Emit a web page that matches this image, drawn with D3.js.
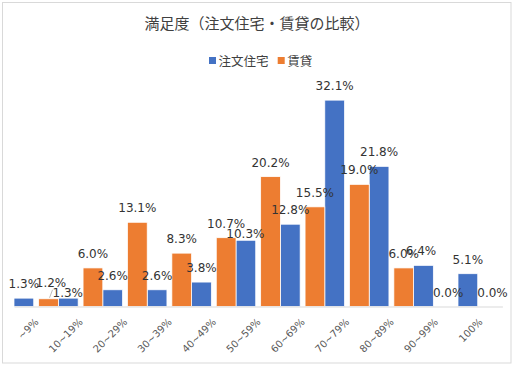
<!DOCTYPE html>
<html><head><meta charset="utf-8">
<script src="https://cdn.jsdelivr.net/npm/d3@7"></script>
<style>
html,body{margin:0;padding:0;background:#fff;}
svg{display:block;}
</style></head>
<body>
<svg id="chart" width="514" height="366"></svg>
<script>
// ---- data ----
const title = "満足度（注文住宅・賃貸の比較）";
const categories = ["~9%","10~19%","20~29%","30~39%","40~49%","50~59%","60~69%","70~79%","80~89%","90~99%","100%"];
const seriesNames = ["注文住宅","賃貸"];
const chumonValues = [1.3,1.3,2.6,2.6,3.8,10.3,12.8,32.1,21.8,6.4,5.1];
const chintaiValues = [1.2,6.0,13.1,8.3,10.7,20.2,15.5,19.0,6.0,0.0,0.0];

// ---- style / layout ----
const colors = ["#4472C4","#ED7D31"];
const W = 514, H = 366;
const plot = {left:14, right:502.4, top:81.5, bottom:306.5};
// manual nudges of data labels (series index, category index) -> [dx, dy]
const labelNudge = {"1-0":[2.5,-2], "0-1":[-0.5,9], "0-5":[-0.5,7.5], "0-9":[-2.5,0]};

const svg = d3.select("#chart");
svg.append("rect").attr("x",2.5).attr("y",2.5).attr("width",508.5).attr("height",360.5)
  .attr("fill","#fff").attr("stroke","#d9d9d9").attr("stroke-width",1);

svg.append("text").attr("x",257).attr("y",29).attr("text-anchor","middle")
  .attr("font-family","'Noto Sans CJK JP'").attr("font-size",15).attr("fill","#404040")
  .text(title);

// legend
const legend = svg.append("g");
const legItems = [{x:209, name:seriesNames[0], c:colors[0]},{x:277.7, name:seriesNames[1], c:colors[1]}];
legItems.forEach(d=>{
  legend.append("rect").attr("x",d.x).attr("y",57).attr("width",7).attr("height",7).attr("fill",d.c);
  legend.append("text").attr("x",d.x+9.5).attr("y",66).attr("font-family","'Noto Sans CJK JP'")
    .attr("font-size",12.5).attr("fill","#404040").text(d.name);
});

const x = d3.scaleBand().domain(categories).range([plot.left, plot.right]).padding(0);
const y = d3.scaleLinear().domain([0,35]).range([plot.bottom, plot.top]);
const bw = x.bandwidth()/2.25;

const series = [chumonValues, chintaiValues];
series.forEach((vals, si)=>{
  const g = svg.append("g");
  g.selectAll("rect").data(vals).join("rect")
    .attr("x",(d,i)=>x(categories[i]) + si*1.25*bw)
    .attr("y",d=>y(d))
    .attr("width",bw)
    .attr("height",d=>y(0)-y(d))
    .attr("fill",colors[si])
    .attr("stroke","#fff").attr("stroke-width",0.75);
});

// axis line
const xAxis = d3.axisBottom(x).tickSize(0).tickFormat("");
const ax = svg.append("g").attr("transform",`translate(0,${plot.bottom})`).call(xAxis);
ax.select(".domain").attr("stroke","#d9d9d9").attr("stroke-width",1);

// category labels
svg.append("g").selectAll("text").data(categories).join("text")
  .attr("transform",d=>`translate(${x(d)+x.bandwidth()/2+3},${plot.bottom+16}) rotate(-45)`)
  .attr("text-anchor","end")
  .attr("font-family","'DejaVu Sans'").attr("font-size",10).attr("fill","#595959")
  .text(d=>d);

// data labels
series.forEach((vals, si)=>{
  vals.forEach((v,i)=>{
    const cx = x(categories[i]) + si*1.25*bw + bw/2;
    const top = y(v);
    const n = labelNudge[si+"-"+i] || [0,0];
    const lx = cx + n[0], ly = top - 10 + n[1];
    if (si===1 && i===0) {
      svg.append("line").attr("x1",cx+1).attr("y1",top-1).attr("x2",lx+1.5).attr("y2",ly+3)
        .attr("stroke","#a6a6a6").attr("stroke-width",0.75);
    }
    svg.append("text").attr("x",lx).attr("y",ly).attr("text-anchor","middle")
      .attr("font-family","'DejaVu Sans'").attr("font-size",12).attr("fill","#333")
      .text(d3.format(".1f")(v)+"%");
  });
});
</script>
</body></html>
